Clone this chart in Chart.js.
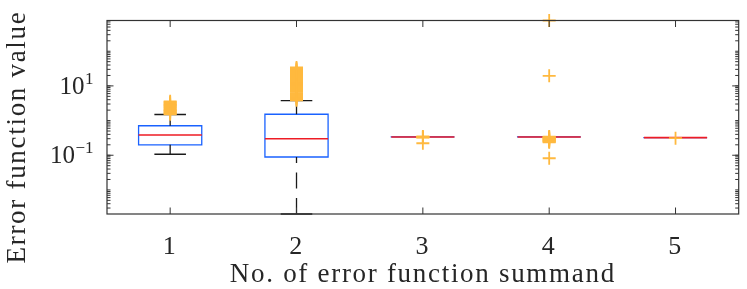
<!DOCTYPE html>
<html>
<head>
<meta charset="utf-8">
<script src="https://cdn.jsdelivr.net/npm/chart.js@4.4.1/dist/chart.umd.min.js"></script>
<style>
html,body{margin:0;padding:0;background:#fff;}
#wrap{width:747px;height:289px;position:relative;}
</style>
</head>
<body>
<div id="wrap"><canvas id="c" width="747" height="289"></canvas></div>
<script>
// ---- data ----
const categories   = [1, 2, 3, 4, 5];
const xTickLabels  = ['1', '2', '3', '4', '5'];
const q1Values     = [0.20, 0.089, 0.337, 0.337, 0.322];
const medianValues = [0.385, 0.30, 0.337, 0.337, 0.322];
const q3Values     = [0.71, 1.52, 0.337, 0.337, 0.322];
const whiskerLow   = [0.107, 0.00202, 0.337, 0.337, 0.322];
const whiskerHigh  = [1.49, 3.75, 0.337, 0.337, 0.322];
const outliers1 = [3.6, 3.4, 3.2, 3.0, 2.85, 2.7, 2.55, 2.4, 2.25, 2.1, 2.0, 1.9, 1.8, 1.7, 1.6, 1.52];
const outliers2 = [3.85, 4.1, 4.4, 4.7, 5.0, 5.4, 5.8, 6.2, 6.7, 7.2, 7.7, 8.3, 8.9, 9.5, 10.2, 11, 11.8,
                   12.7, 13.6, 14.6, 15.7, 16.9, 18.1, 19.4, 20.8, 22.4, 24, 25.8, 27.7, 29.7, 31.9, 34];
const outliers3 = [0.35, 0.34, 0.33, 0.325, 0.222];
const outliers4 = [770, 19.5, 0.345, 0.335, 0.325, 0.315, 0.305, 0.295, 0.285, 0.275, 0.265, 0.255, 0.245, 0.236, 0.082];
const outliers5 = [0.31];
const yTickValues = [0.1, 10];
const yTickBase   = ['10', '10'];
const yTickExp    = ['\u22121', '1'];
const yMin = 0.00202, yMax = 770;
const xTitle = 'No. of error function summand';
const yTitle = 'Error function value';

// ---- styles ----
const FONT = 'Liberation Serif';
const BOX_HALF = 0.25, CAP_HALF = 0.125;
const BLUE = '#1a62ff', RED = '#ee1c25', ORANGE = '#ffb93f', BLACK = '#1a1a1a', AXIS = '#333333';
const outlierSets = [outliers1, outliers2, outliers3, outliers4, outliers5];

const boxData = [], medData = [], whiskData = [], capData = [], outData = [];
categories.forEach((c, i) => {
  const a = q1Values[i], b = q3Values[i];
  boxData.push({x: c - BOX_HALF, y: a}, {x: c + BOX_HALF, y: a}, {x: c + BOX_HALF, y: b},
               {x: c - BOX_HALF, y: b}, {x: c - BOX_HALF, y: a}, {x: c, y: null});
  medData.push({x: c - BOX_HALF, y: medianValues[i]}, {x: c + BOX_HALF, y: medianValues[i]}, {x: c, y: null});
  if (whiskerHigh[i] > b) {
    whiskData.push({x: c, y: whiskerHigh[i]}, {x: c, y: b}, {x: c, y: null});
    capData.push({x: c - CAP_HALF, y: whiskerHigh[i]}, {x: c + CAP_HALF, y: whiskerHigh[i]}, {x: c, y: null});
  }
  if (whiskerLow[i] < a) {
    whiskData.push({x: c, y: whiskerLow[i]}, {x: c, y: a}, {x: c, y: null});
    capData.push({x: c - CAP_HALF, y: whiskerLow[i]}, {x: c + CAP_HALF, y: whiskerLow[i]}, {x: c, y: null});
  }
  outlierSets[i].forEach(v => outData.push({x: c, y: v}));
});

const lineDs = (data, color, width, order, dash) => ({
  type: 'scatter', data, showLine: true, spanGaps: false, borderColor: color, backgroundColor: color,
  borderWidth: width, pointRadius: 0, pointHoverRadius: 0, fill: false, order, clip: false,
  borderDash: dash || [], borderCapStyle: 'butt', borderJoinStyle: 'miter', tension: 0
});

const frameAndLabels = {
  id: 'frameAndLabels',
  beforeDraw(chart) { chart.ctx.letterSpacing = '1.7px'; },
  afterDraw(chart) {
    const ctx = chart.ctx, {left, right, top, bottom} = chart.chartArea;
    const xs = chart.scales.x, ys = chart.scales.y;
    ctx.save();
    ctx.letterSpacing = '0px';
    ctx.strokeStyle = AXIS; ctx.lineWidth = 1.2;
    ctx.strokeRect(left, top, right - left, bottom - top);
    ctx.lineWidth = 1;
    ctx.beginPath();
    // x ticks bottom & top (inward)
    categories.forEach(c => {
      const px = xs.getPixelForValue(c);
      ctx.moveTo(px, bottom); ctx.lineTo(px, bottom - 6.5);
      ctx.moveTo(px, top); ctx.lineTo(px, top + 6.5);
    });
    // y minor ticks
    for (let n = -3; n <= 3; n++) {
      for (let k = 1; k <= 9; k++) {
        const v = k * Math.pow(10, n);
        if (v < yMin || v > yMax) continue;
        const py = ys.getPixelForValue(v);
        ctx.moveTo(left, py); ctx.lineTo(left + 3.5, py);
        ctx.moveTo(right, py); ctx.lineTo(right - 3.5, py);
      }
    }
    yTickValues.forEach(v => {
      const py = ys.getPixelForValue(v);
      ctx.moveTo(left, py); ctx.lineTo(left + 6.5, py);
      ctx.moveTo(right, py); ctx.lineTo(right - 6.5, py);
    });
    ctx.stroke();

    // y tick labels with superscripts
    ctx.fillStyle = '#262626';
    ctx.textBaseline = 'alphabetic';
    yTickValues.forEach((v, i) => {
      const py = ys.getPixelForValue(v);
      const base = py + 7.6;
      ctx.font = '17px "' + FONT + '"';
      ctx.textAlign = 'right';
      const ew = ctx.measureText(yTickExp[i]).width;
      ctx.fillText(yTickExp[i], 93.5, base - 10);
      ctx.font = '25px "' + FONT + '"';
      ctx.fillText(yTickBase[i], 93.5 - ew - 0.5, base);
    });

    // y axis title
    ctx.font = '27px "' + FONT + '"';
    ctx.letterSpacing = '1.7px';
    ctx.translate(24.5, 137);
    ctx.rotate(-Math.PI / 2);
    ctx.textAlign = 'center';
    ctx.fillText(yTitle, 0, 0);
    ctx.restore();
  }
};

new Chart(document.getElementById('c'), {
  data: {
    datasets: [
      Object.assign(lineDs([], ORANGE, 1.8, 0), {
        data: outData, showLine: false, pointStyle: 'cross', pointRadius: 6.5, pointBorderWidth: 1.8,
        pointBorderColor: ORANGE, pointHoverRadius: 6.5
      }),
      lineDs(medData, RED, 1.6, 1),
      lineDs(capData, BLACK, 1.4, 2),
      lineDs(whiskData, BLACK, 1.3, 3, [16, 9.5]),
      Object.assign(lineDs(boxData, BLUE, 1.3, 4), {borderCapStyle: 'square'})
    ]
  },
  options: {
    responsive: false,
    animation: false,
    devicePixelRatio: 1,
    events: [],
    layout: {padding: {left: 0, right: 3, top: 20.5, bottom: 0}},
    plugins: {legend: {display: false}, tooltip: {enabled: false}},
    scales: {
      x: {
        type: 'linear', min: 0.5, max: 5.5,
        afterBuildTicks: s => { s.ticks = categories.map(v => ({value: v})); },
        afterFit: s => { s.height = 75; },
        grid: {display: false}, border: {display: false},
        ticks: {
          autoSkip: false, maxRotation: 0, padding: 9.4, color: '#262626',
          font: {family: FONT, size: 26},
          callback: v => { const i = categories.indexOf(v); return i >= 0 ? xTickLabels[i] : ''; }
        },
        title: {display: true, text: xTitle, color: '#262626', font: {family: FONT, size: 27, lineHeight: 1}, padding: {top: 0, bottom: 0.5}}
      },
      y: {
        type: 'logarithmic', min: yMin, max: yMax,
        afterFit: s => { s.width = 107; },
        grid: {display: false}, border: {display: false},
        ticks: {display: false}
      }
    }
  },
  plugins: [frameAndLabels]
});
</script>
</body>
</html>
